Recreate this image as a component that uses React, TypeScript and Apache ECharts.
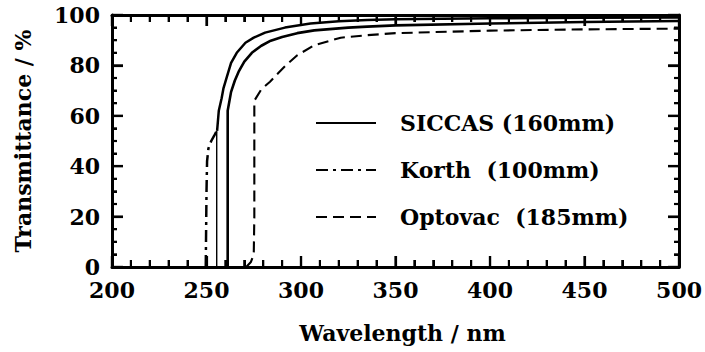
import React, { useEffect, useRef } from "react";
import * as echarts from "echarts";

// Axis ranges and tick spacing
const xRange = [200, 500];
const xStep = 50;
const yRange = [0, 100];
const yStep = 20;

// Tick positions for the frame (major ones carry labels)
const xMajorTicks = [200, 250, 300, 350, 400, 450, 500];
const xMinorTicks = [
  210, 220, 230, 240, 260, 270, 280, 290, 310, 320, 330, 340, 360, 370, 380, 390,
  410, 420, 430, 440, 460, 470, 480, 490,
];
const yMajorTicks = [0, 20, 40, 60, 80, 100];
const yMinorTicks = [5, 10, 15, 25, 30, 35, 45, 50, 55, 65, 70, 75, 85, 90, 95];

// Legend / series names
const seriesNames = ["SICCAS (160mm)", "Korth  (100mm)", "Optovac  (185mm)"];

// SICCAS: outer transmission curve (wavelength nm, transmittance %)
const siccasOuter: [number, number][] = [
  [255.6, 54], [256.5, 62], [258, 67], [259, 71], [261, 76], [263, 81],
  [266, 85], [270.6, 89], [275, 91], [281, 93], [291.5, 95], [305, 96.6],
  [320, 97.5], [335, 98], [350, 98.3], [400, 98.7], [450, 98.9], [500, 99],
];
// SICCAS: absorption edge of the outer curve
const siccasEdge: [number, number][] = [
  [255.4, 0], [255.4, 54],
];
// SICCAS: second sample, edge and curve
const siccasInner: [number, number][] = [
  [261.2, 0], [261.2, 62], [263, 69.5], [265, 74], [267, 77.5], [270, 81.5],
  [274, 85], [279, 87.8], [284, 89.8], [290, 91.3], [298, 92.8], [307, 93.9],
  [325, 95], [335, 95.4], [350, 95.9], [400, 96.6], [450, 97.2], [500, 97.6],
];
// Korth: absorption edge
const korth: [number, number][] = [
  [249.6, 0], [249.8, 15], [250, 30], [250.3, 42], [251, 47], [252.5, 50],
  [254, 52], [255.4, 54],
];
// Optovac: edge and curve
const optovac: [number, number][] = [
  [271, 0], [273.5, 2], [275, 5], [275.3, 20], [275.3, 66], [279, 70.5],
  [283.6, 73.5], [288, 77], [292, 80], [298, 84], [307, 88], [321, 91],
  [335, 92], [350, 92.8], [400, 93.8], [450, 94.3], [500, 94.6],
];

const FONT = "DejaVu Serif";
const MAJOR_LEN = 11;
const MINOR_LEN_X = 7;
const MINOR_LEN_Y = 5;

export default function App() {
  const ref = useRef<HTMLDivElement>(null);

  useEffect(() => {
    if (!ref.current) return;
    const chart = echarts.init(ref.current, null, { renderer: "svg" });

    const labelStyle = { color: "#000", fontFamily: FONT, fontWeight: "bold" as const, fontSize: 22 };
    const tickStroke = { stroke: "#000", lineWidth: 2.2 };

    const makeX = (position: "bottom" | "top") => ({
      type: "value" as const,
      position,
      min: xRange[0],
      max: xRange[1],
      interval: xStep,
      axisLine: { show: true, onZero: false, lineStyle: { color: "#000", width: 3 } },
      axisTick: { show: true, inside: true, length: MAJOR_LEN, lineStyle: { color: "#000", width: 2.2 } },
      minorTick: { show: true, splitNumber: 5, length: MINOR_LEN_X, lineStyle: { color: "#000", width: 2 } },
      splitLine: { show: false },
    });
    const makeY = (position: "left" | "right") => ({
      type: "value" as const,
      position,
      min: yRange[0],
      max: yRange[1],
      interval: yStep,
      axisLine: { show: true, onZero: false, lineStyle: { color: "#000", width: 3 } },
      axisTick: { show: true, inside: true, length: MAJOR_LEN, lineStyle: { color: "#000", width: 2.2 } },
      minorTick: { show: true, splitNumber: 4, length: MINOR_LEN_Y, lineStyle: { color: "#000", width: 2 } },
      splitLine: { show: false },
    });

    const line = (name: string, data: [number, number][], width: number, type: any) => ({
      type: "line" as const,
      name,
      data,
      symbol: "none",
      smooth: false,
      lineStyle: { color: "#000", width, type },
      itemStyle: { color: "#000" },
    });

    chart.setOption({
      animation: false,
      grid: { left: 112, right: 19, top: 15, bottom: 85 },
      xAxis: [
        {
          ...makeX("bottom"),
          name: "Wavelength / nm",
          nameLocation: "middle",
          nameGap: 55,
          nameTextStyle: { ...labelStyle, padding: [0, 0, 0, 14] },
          axisLabel: { ...labelStyle, margin: 12 },
        },
        { ...makeX("top"), axisLabel: { show: false } },
      ],
      yAxis: [
        {
          ...makeY("left"),
          name: "Transmittance / %",
          nameLocation: "middle",
          nameGap: 78,
          nameTextStyle: { ...labelStyle },
          axisLabel: { ...labelStyle, margin: 12 },
        },
        { ...makeY("right"), axisLabel: { show: false } },
      ],
      legend: {
        orient: "vertical",
        left: 310,
        top: 106,
        itemWidth: 60,
        itemHeight: 14,
        itemGap: 23,
        data: seriesNames,
        itemStyle: { opacity: 0 },
        textStyle: { ...labelStyle, lineHeight: 24, padding: [0, 0, 0, 19] },
        inactiveColor: "#000",
      },
      series: [
        line(seriesNames[0], siccasOuter, 2.5, "solid"),
        line(seriesNames[0], siccasEdge, 1.4, "solid"),
        line(seriesNames[0], siccasInner, 2.6, "solid"),
        line(seriesNames[1], korth, 2.5, [12, 5, 3, 5]),
        line(seriesNames[2], optovac, 2.1, [11, 6]),
      ],
    });

    // Inward frame ticks as graphic lines, positioned with the chart's own scales
    const px = (x: number, y: number) =>
      chart.convertToPixel({ xAxisIndex: 0, yAxisIndex: 0 }, [x, y]) as number[];
    const tickGraphics: any[] = [];
    [...xMajorTicks.map((v) => [v, MAJOR_LEN]), ...xMinorTicks.map((v) => [v, MINOR_LEN_X])].forEach(([v, len]) => {
      const b = px(v, yRange[0]);
      const t = px(v, yRange[1]);
      tickGraphics.push({ type: "line", silent: true, z: 50, shape: { x1: b[0], y1: b[1], x2: b[0], y2: b[1] - len }, style: { ...tickStroke } });
      tickGraphics.push({ type: "line", silent: true, z: 50, shape: { x1: t[0], y1: t[1], x2: t[0], y2: t[1] + len }, style: { ...tickStroke } });
    });
    [...yMajorTicks.map((v) => [v, MAJOR_LEN]), ...yMinorTicks.map((v) => [v, MINOR_LEN_Y])].forEach(([v, len]) => {
      const l = px(xRange[0], v);
      const r = px(xRange[1], v);
      tickGraphics.push({ type: "line", silent: true, z: 50, shape: { x1: l[0], y1: l[1], x2: l[0] + len, y2: l[1] }, style: { ...tickStroke } });
      tickGraphics.push({ type: "line", silent: true, z: 50, shape: { x1: r[0], y1: r[1], x2: r[0] - len, y2: r[1] }, style: { ...tickStroke } });
    });
    chart.setOption({ graphic: tickGraphics });

    return () => chart.dispose();
  }, []);

  return <div ref={ref} style={{ width: 705, height: 352, position: "absolute", left: 0, top: 0 }} />;
}
